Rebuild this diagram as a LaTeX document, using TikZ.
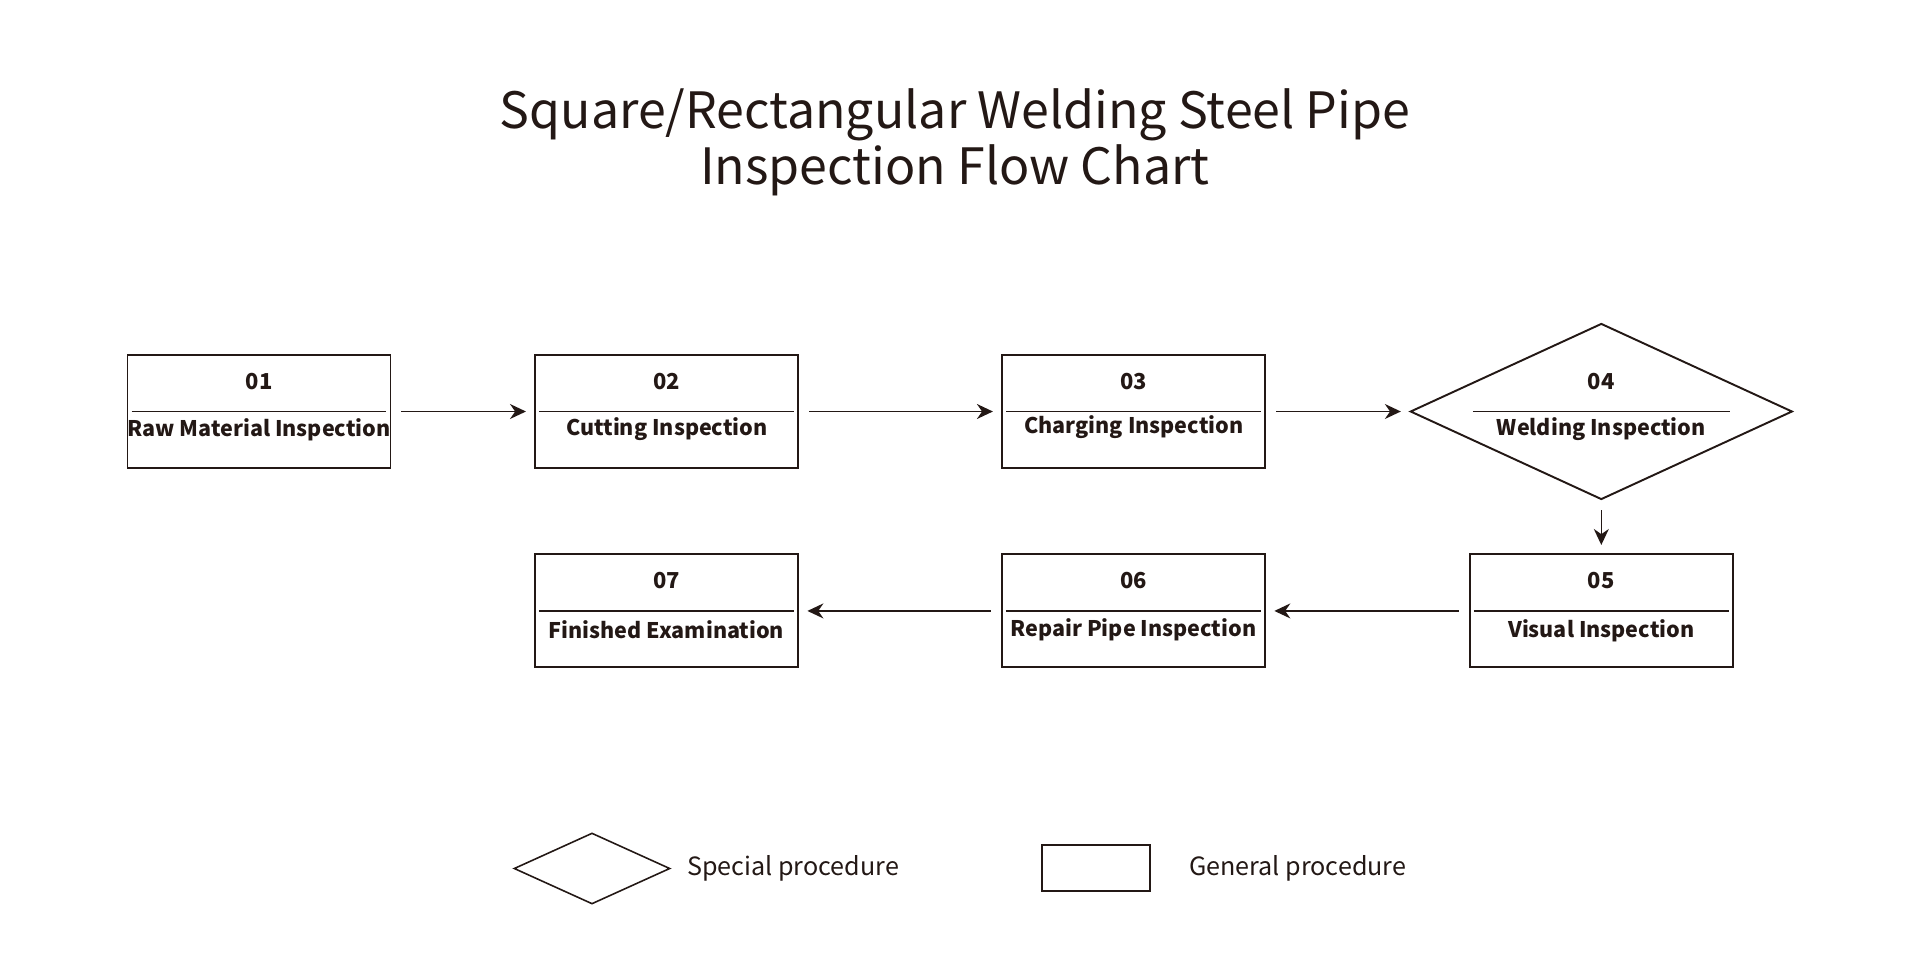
\documentclass[tikz,border=0pt]{standalone}
\usepackage{fontspec}
\setmainfont{Noto Sans CJK SC}
\usetikzlibrary{shapes.geometric,arrows.meta,positioning}
\definecolor{inkblack}{RGB}{35,24,21}

\begin{document}
\begin{tikzpicture}[
    node distance=1cm,
    >={Stealth[length=0.32cm,width=0.3cm]},
    box/.style={rectangle, draw=inkblack, line width=1.1pt, minimum width=5.26cm, minimum height=2.26cm},
    special/.style={diamond, draw=inkblack, line width=1.1pt, minimum width=7.64cm, minimum height=3.52cm, inner sep=0pt},
    num/.style={text=inkblack, inner sep=0pt, font=\bfseries\fontsize{12.5}{15}\selectfont},
    lbl/.style={text=inkblack, inner sep=0pt, font=\bfseries\fontsize{12.25}{15}\selectfont},
    legendtext/.style={text=inkblack, inner sep=0pt, font=\fontsize{14.3}{16}\selectfont},
    flow/.style={->, draw=inkblack, line width=0.85pt, shorten <=0.2cm, shorten >=0.17cm},
    divider/.style={draw=inkblack, line width=0.9pt}
]
    % Canvas
    \useasboundingbox (0,0) rectangle (38.4,-19.2);

    % Title
    \node[align=center, text=inkblack, font=\fontsize{28.5}{32}\selectfont] (title) at (19.1,-2.84) {Square/Rectangular Welding Steel Pipe\\Inspection Flow Chart};

    % Top row
    \node[box] (b1) at (5.18,-8.23) {};
    \node[box, right=2.86cm of b1] (b2) {};
    \node[box, right=4.04cm of b2] (b3) {};
    \node[special, right=2.86cm of b3] (d4) {};

    % Bottom row
    \node[box, below=1.06cm of d4] (b5) {};
    \node[box, left=4.06cm of b5] (b6) {};
    \node[box, left=4.04cm of b6] (b7) {};

    % Dividers
    \foreach \b in {b1,b2,b3,b5,b6,b7}
        \draw[divider] ([xshift=0.1cm]\b.west) -- ([xshift=-0.1cm]\b.east);
    \draw[divider] ([xshift=-2.57cm]d4.center) -- ([xshift=2.57cm]d4.center);

    % Numbers and labels
    \node[num] (n1) at ([yshift=0.6cm]b1.center) {01};
    \node[lbl] (l1) at ([yshift=-0.36cm]b1.center) {Raw Material Inspection};
    \node[num] (n2) at ([yshift=0.6cm]b2.center) {02};
    \node[lbl] (l2) at ([yshift=-0.36cm]b2.center) {Cutting Inspection};
    \node[num] (n3) at ([yshift=0.6cm]b3.center) {03};
    \node[lbl] (l3) at ([yshift=-0.32cm]b3.center) {Charging Inspection};
    \node[num] (n4) at ([yshift=0.6cm]d4.center) {04};
    \node[lbl] (l4) at ([yshift=-0.36cm]d4.center) {Welding Inspection};
    \node[num] (n5) at ([yshift=0.6cm]b5.center) {05};
    \node[lbl] (l5) at ([yshift=-0.4cm]b5.center) {Visual Inspection};
    \node[num] (n6) at ([yshift=0.6cm]b6.center) {06};
    \node[lbl] (l6) at ([yshift=-0.38cm]b6.center) {Repair Pipe Inspection};
    \node[num] (n7) at ([yshift=0.6cm]b7.center) {07};
    \node[lbl] (l7) at ([yshift=-0.38cm]b7.center) {Finished Examination};

    % Edges
    \draw[flow] (b1) -- (b2);
    \draw[flow] (b2) -- (b3);
    \draw[flow] (b3) -- (d4);
    \draw[flow] (d4) -- (b5);
    \draw[flow] (b5) -- (b6);
    \draw[flow] (b6) -- (b7);

    % Legend
    \node[special, minimum width=3.12cm, minimum height=1.42cm, line width=0.9pt] (lgd) at (11.84,-17.37) {};
    \node[legendtext, right=0.32cm of lgd] (lgdt) {Special procedure};
    \node[box, minimum width=2.16cm, minimum height=0.92cm, line width=0.9pt] (lgb) at (21.92,-17.36) {};
    \node[legendtext, right=0.76cm of lgb] (lgbt) {General procedure};
\end{tikzpicture}
\end{document}
